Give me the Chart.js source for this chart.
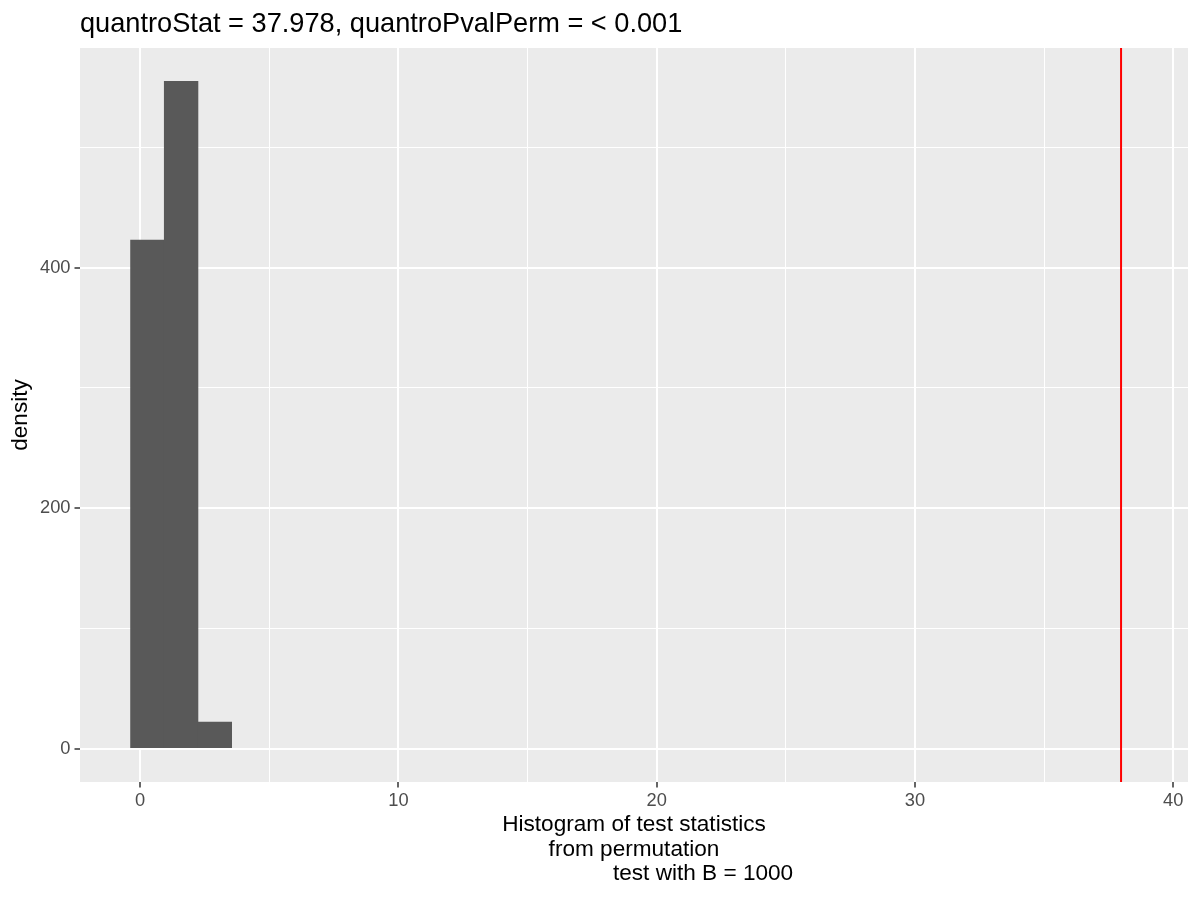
<!DOCTYPE html>
<html>
<head>
<meta charset="utf-8">
<script src="https://cdn.jsdelivr.net/npm/chart.js@4"></script>
<style>
  body { margin: 0; background: #fff; }
  #wrap { width: 1200px; height: 900px; position: relative; }
</style>
</head>
<body>
<div id="wrap"><canvas id="hist"></canvas></div>
<script>
// histogram of permutation test statistics (bin midpoints and densities)
var binMids = [0.28, 1.585, 2.89];
var binDensity = [423, 555, 22];
var quantroStat = 37.978;
var plotTitle = "quantroStat = 37.978, quantroPvalPerm = < 0.001";
var xTitle = ["Histogram of test statistics", "from permutation", "                      test with B = 1000"];
var yTitle = "density";
var xRange = [-2.33, 40.57];
var yRange = [-27.75, 582.75];

var fontFam = '"Liberation Sans", Arial, sans-serif';

// grey panel behind the grid
var panelBg = {
  id: 'panelBg',
  beforeDraw: function (chart) {
    var a = chart.chartArea, ctx = chart.ctx;
    ctx.save();
    ctx.fillStyle = '#EBEBEB';
    ctx.fillRect(a.left, a.top, a.right - a.left, a.bottom - a.top);
    ctx.restore();
  }
};

// title left-aligned with the panel, like ggplot
var ggTitle = {
  id: 'ggTitle',
  afterDraw: function (chart) {
    var ctx = chart.ctx;
    ctx.save();
    ctx.font = '27.2px ' + fontFam;
    ctx.fillStyle = '#000';
    ctx.textBaseline = 'alphabetic';
    ctx.textAlign = 'left';
    ctx.fillText(plotTitle, chart.chartArea.left, 32);
    ctx.restore();
  }
};

var points = binMids.map(function (m, i) { return {x: m, y: binDensity[i]}; });

var ctx = document.getElementById("hist").getContext('2d');
var chart = new Chart(ctx, {
  type: 'bar',
  data: {
    datasets: [
      {
        type: 'bar',
        data: points,
        backgroundColor: '#595959',
        borderWidth: 0,
        barPercentage: 1,
        categoryPercentage: 1
      },
      {
        type: 'line',
        data: [{x: quantroStat, y: yRange[0]}, {x: quantroStat, y: yRange[1]}],
        borderColor: '#FF0000',
        borderWidth: 2,
        pointRadius: 0,
        fill: false
      }
    ]
  },
  options: {
    responsive: true,
    maintainAspectRatio: false,
    animation: false,
    layout: { padding: { top: 48, right: 12, bottom: 0, left: 0 } },
    plugins: {
      legend: { display: false },
      tooltip: { enabled: false }
    },
    scales: {
      x: {
        type: 'linear',
        min: xRange[0],
        max: xRange[1],
        offset: false,
        border: { display: false },
        grid: {
          offset: false,
          color: '#FFFFFF',
          lineWidth: function (c) { return c.tick && c.tick.value % 10 === 0 ? 2 : 1; },
          tickColor: function (c) { return c.tick && c.tick.value % 10 === 0 ? '#333333' : 'rgba(0,0,0,0)'; },
          tickWidth: 1.5,
          tickLength: 5.5
        },
        ticks: {
          stepSize: 5,
          includeBounds: false,
          autoSkip: false,
          maxRotation: 0,
          padding: 2,
          color: '#4D4D4D',
          font: { family: fontFam, size: 18.3 },
          callback: function (v) { return v % 10 === 0 ? v : ''; }
        },
        title: {
          display: true,
          text: xTitle,
          color: '#000',
          font: { family: fontFam, size: 22.6, lineHeight: '24.5px' },
          padding: { top: 0, bottom: 13.75 }
        },
        afterFit: function (s) { s.height = 118; }
      },
      y: {
        type: 'linear',
        min: yRange[0],
        max: yRange[1],
        border: { display: false },
        grid: {
          color: '#FFFFFF',
          lineWidth: function (c) { return c.tick && c.tick.value % 200 === 0 ? 2 : 1; },
          tickColor: function (c) { return c.tick && c.tick.value % 200 === 0 ? '#333333' : 'rgba(0,0,0,0)'; },
          tickWidth: 1.5,
          tickLength: 5.5
        },
        ticks: {
          stepSize: 100,
          includeBounds: false,
          autoSkip: false,
          padding: 4,
          color: '#4D4D4D',
          font: { family: fontFam, size: 18.3 },
          callback: function (v) { return v % 200 === 0 ? v : ''; }
        },
        title: {
          display: true,
          text: yTitle,
          color: '#000',
          font: { family: fontFam, size: 22.6 },
          padding: { top: 7, bottom: 0 }
        },
        afterFit: function (s) { s.width = 80; }
      }
    }
  },
  plugins: [panelBg, ggTitle]
});
</script>
</body>
</html>
